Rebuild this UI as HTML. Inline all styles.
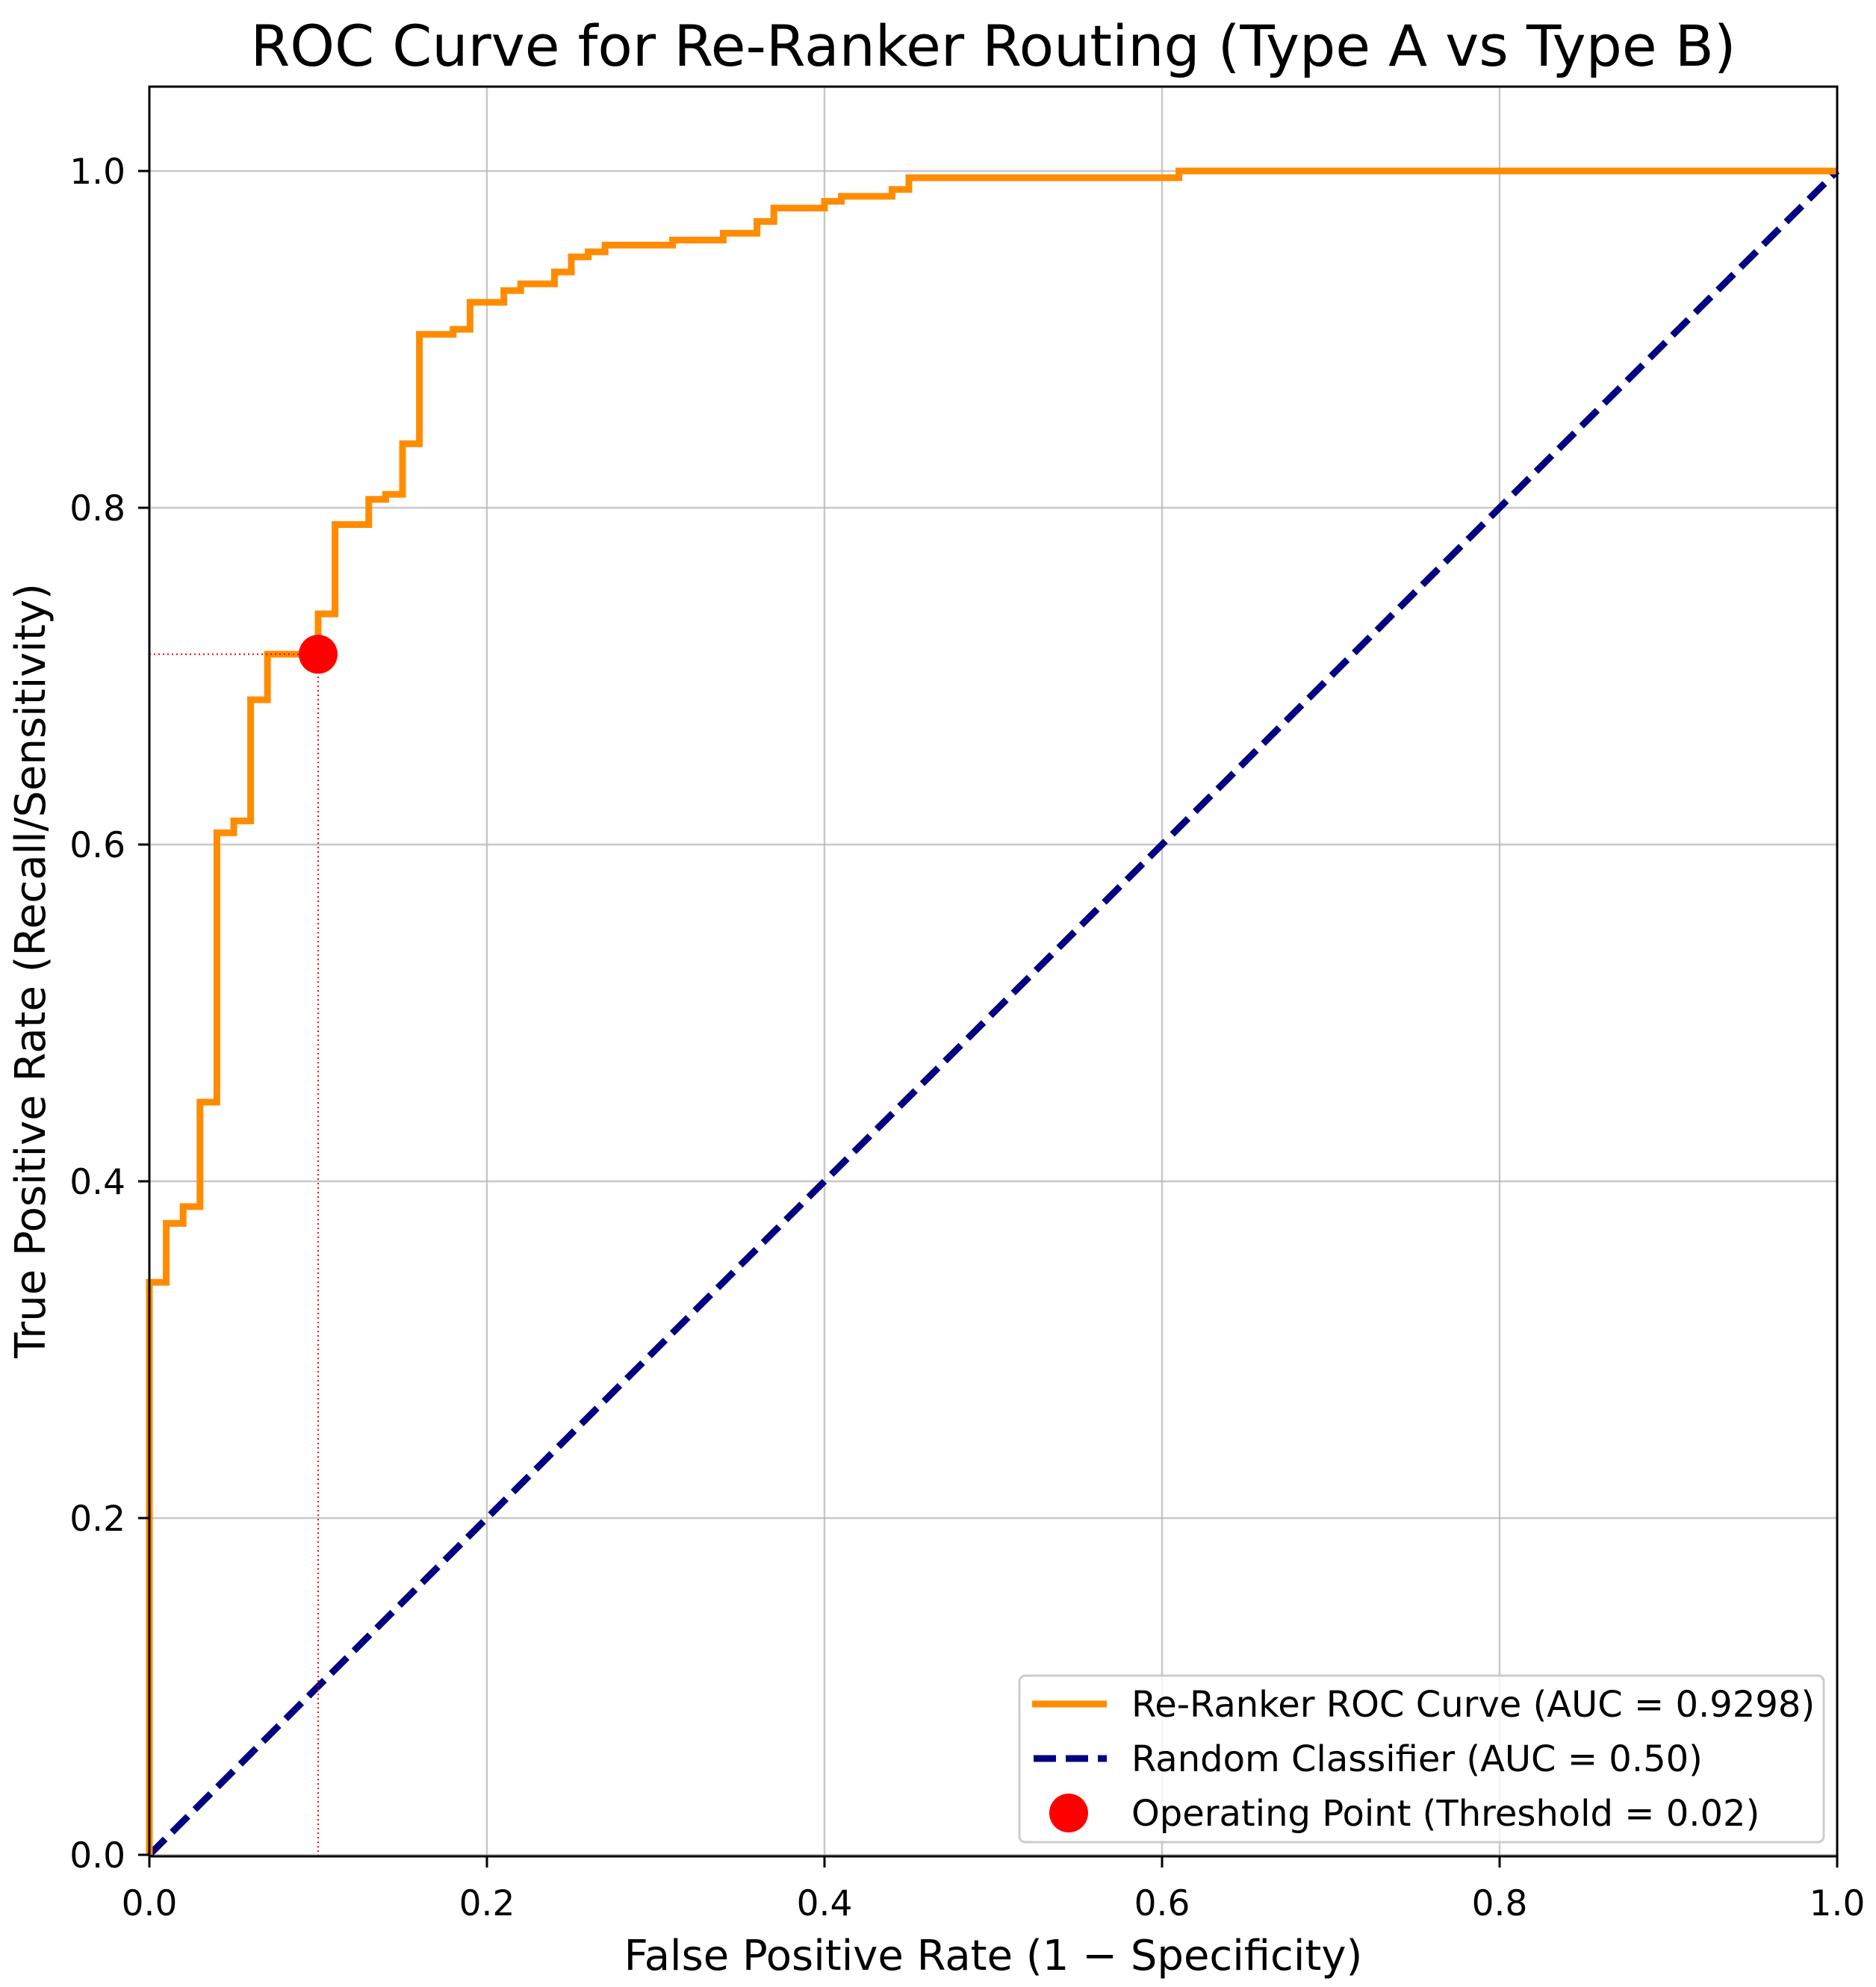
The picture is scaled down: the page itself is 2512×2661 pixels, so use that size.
<!DOCTYPE html>
<html><head><meta charset="utf-8">
<style>
html,body{margin:0;padding:0;background:#fff;}
svg{display:block;font-family:"DejaVu Sans","Liberation Sans",sans-serif;}
</style></head>
<body>
<svg id="chart" width="2512" height="2661" viewBox="0 0 2512 2661" xmlns="http://www.w3.org/2000/svg">
<rect width="2512" height="2661" fill="#fff"/>
<text x="1330" y="88" font-size="76" text-anchor="middle" fill="#000">ROC Curve for Re-Ranker Routing (Type A vs Type B)</text>
<g id="grid"></g>
<g id="plot"></g>
<g id="axes"></g>
<text x="1330" y="2638" font-size="56" text-anchor="middle" fill="#000">False Positive Rate (1 − Specificity)</text>
<text transform="translate(60,1300) rotate(-90)" font-size="56" text-anchor="middle" fill="#000">True Positive Rate (Recall/Sensitivity)</text>
<g id="legend">
  <rect x="1365" y="2244" width="1077" height="223" rx="8" fill="#fff" fill-opacity="0.8" stroke="#cccccc" stroke-width="3"/>
  <line x1="1382" y1="2282" x2="1482" y2="2282" stroke="#ff8c00" stroke-width="9"/>
  <text x="1515" y="2299" font-size="48" fill="#000">Re-Ranker ROC Curve (AUC = 0.9298)</text>
  <line x1="1384" y1="2355" x2="1482" y2="2355" stroke="#000080" stroke-width="9" stroke-dasharray="30,13"/>
  <text x="1515" y="2372" font-size="48" fill="#000">Random Classifier (AUC = 0.50)</text>
  <circle cx="1431" cy="2428" r="26" fill="#ff0000"/>
  <text x="1515" y="2445" font-size="48" fill="#000">Operating Point (Threshold = 0.02)</text>
</g>
</svg>
<script>
const fpr = [0,0,0.01,0.01,0.02,0.02,0.03,0.03,0.04,0.04,0.05,0.05,0.06,0.06,0.07,0.07,0.10,0.10,0.11,0.11,0.13,0.13,0.14,0.14,0.15,0.15,0.16,0.16,0.18,0.18,0.19,0.19,0.21,0.21,0.22,0.22,0.24,0.24,0.25,0.25,0.26,0.26,0.27,0.27,0.31,0.31,0.34,0.34,0.36,0.36,0.37,0.37,0.40,0.40,0.41,0.41,0.44,0.44,0.45,0.45,0.61,0.61,1.0];
const tpr = [0,0.34,0.34,0.375,0.375,0.385,0.385,0.447,0.447,0.607,0.607,0.614,0.614,0.686,0.686,0.713,0.713,0.737,0.737,0.79,0.79,0.805,0.805,0.808,0.808,0.838,0.838,0.903,0.903,0.906,0.906,0.922,0.922,0.929,0.929,0.933,0.933,0.940,0.940,0.949,0.949,0.952,0.952,0.956,0.956,0.959,0.959,0.963,0.963,0.970,0.970,0.978,0.978,0.982,0.982,0.985,0.985,0.989,0.989,0.996,0.996,1.0,1.0];
const randomX = [0,1];
const randomY = [0,1];
const opPoint = [0.10, 0.713];
const xTicks = [0,0.2,0.4,0.6,0.8,1.0];
const yTicks = [0,0.2,0.4,0.6,0.8,1.0];
const xTickLabels = ["0.0","0.2","0.4","0.6","0.8","1.0"];
const yTickLabels = ["0.0","0.2","0.4","0.6","0.8","1.0"];

const NS="http://www.w3.org/2000/svg";
const L=200,R=2460,T=116,B=2486,Y0=2484,Y1=229;
function sx(v){return L+v*(R-L);}
function sy(v){return Y0-v*(Y0-Y1);}
function mk(tag,attrs,parent){const e=document.createElementNS(NS,tag);for(const k in attrs)e.setAttribute(k,attrs[k]);parent.appendChild(e);return e;}
const grid=document.getElementById('grid'),plot=document.getElementById('plot'),axes=document.getElementById('axes');

xTicks.forEach((t,i)=>{
  const g=mk('line',{x1:sx(t),x2:sx(t),y1:T,y2:B,stroke:'#b0b0b0','stroke-opacity':0.7,'stroke-width':2.5},grid);
  
  
  const tk=mk('line',{x1:sx(t),x2:sx(t),y1:B,y2:B+15,stroke:'#000','stroke-width':3},axes);
  
  
  const tx=mk('text',{x:sx(t),y:2565,'font-size':47,'text-anchor':'middle',fill:'#000'},axes);
  tx.textContent=xTickLabels[i];
  
  
});
yTicks.forEach((t,i)=>{
  const g=mk('line',{x1:L,x2:R,y1:sy(t),y2:sy(t),stroke:'#b0b0b0','stroke-opacity':0.7,'stroke-width':2.5},grid);
  
  
  const tk=mk('line',{x1:L-15,x2:L,y1:sy(t),y2:sy(t),stroke:'#000','stroke-width':3},axes);
  
  
  const tx=mk('text',{x:168,y:sy(t)+17,'font-size':47,'text-anchor':'end',fill:'#000'},axes);
  tx.textContent=yTickLabels[i];
  
  
});

const rl=mk('polyline',{points:randomX.map((x,i)=>sx(x)+','+sy(randomY[i])).join(' '),fill:'none',stroke:'#000080','stroke-width':9,'stroke-dasharray':'30,13'},plot);



const roc=mk('polyline',{points:fpr.map((x,i)=>sx(x)+','+sy(tpr[i])).join(' '),fill:'none',stroke:'#ff8c00','stroke-width':9,'stroke-linejoin':'miter'},plot);



const hl=mk('line',{x1:L,y1:sy(opPoint[1]),x2:sx(opPoint[0]),y2:sy(opPoint[1]),stroke:'#ff0000','stroke-width':2,'stroke-dasharray':'2,4'},plot);


const vl=mk('line',{x1:sx(opPoint[0]),y1:sy(opPoint[1]),x2:sx(opPoint[0]),y2:B,stroke:'#ff0000','stroke-width':2,'stroke-dasharray':'2,4'},plot);


const op=mk('circle',{cx:sx(opPoint[0]),cy:sy(opPoint[1]),r:26,fill:'#ff0000'},plot);



const fr=mk('rect',{x:L,y:T,width:R-L,height:B-T,fill:'none',stroke:'#000','stroke-width':3},axes);


</script>
</body></html>
